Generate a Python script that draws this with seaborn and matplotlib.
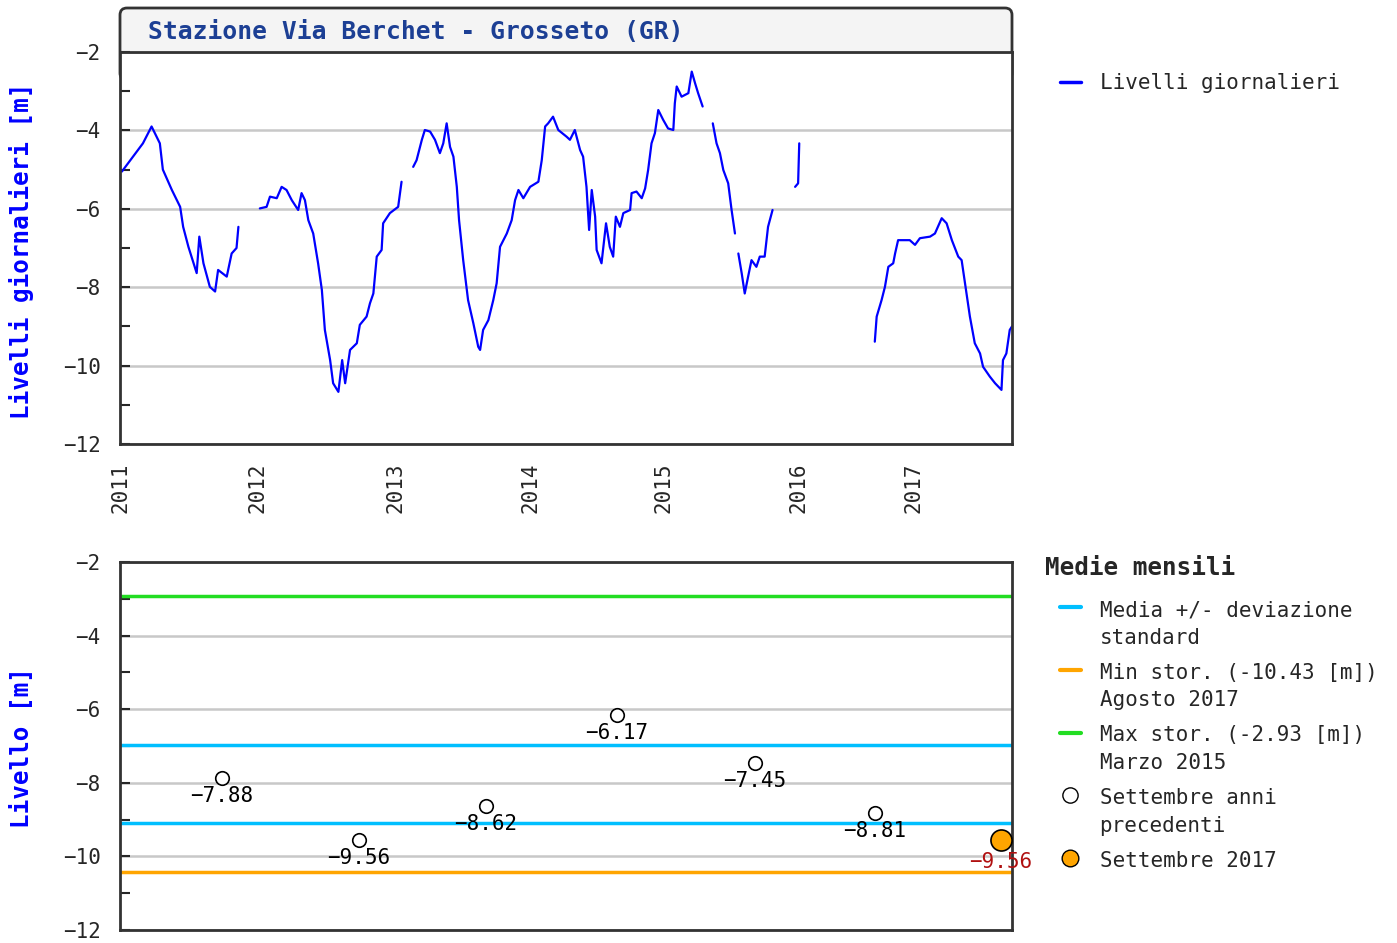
import numpy as np
import pandas as pd
import seaborn as sns
import matplotlib.pyplot as plt
from matplotlib.lines import Line2D
from matplotlib.patches import FancyBboxPatch
from matplotlib.transforms import IdentityTransform

sns.set_style('white')
plt.rcParams['font.family'] = ['DejaVu Sans Mono', 'DejaVu Sans']

# Livelli giornalieri: giorno progressivo del record, livello [m], per tratti continui
seg1_giorno = [5, 61, 84, 106, 114, 138, 160, 168, 182, 204, 211, 222, 239, 253, 261, 284, 297, 310, 315]
seg1_livello = [-5.05, -4.33, -3.9, -4.33, -5.0, -5.52, -5.95, -6.46, -6.97, -7.64, -6.71, -7.39, -7.99, -8.11,
                -7.56, -7.73, -7.14, -7.0, -6.46]
seg2_giorno = [372, 390, 399, 417, 430, 443, 457, 474, 483, 492, 501, 514, 527, 537, 545, 559, 567, 581, 591, 599,
               612, 630, 638, 656, 665, 674, 683, 696, 700, 718, 740, 749]
seg2_livello = [-5.99, -5.95, -5.69, -5.73, -5.44, -5.52, -5.78, -6.03, -5.6, -5.78, -6.29, -6.63, -7.39, -8.07,
                -9.09, -9.86, -10.45, -10.67, -9.86, -10.45, -9.6, -9.43, -8.96, -8.75, -8.41, -8.16, -7.22, -7.05,
                -6.37, -6.11, -5.95, -5.31]
seg3_giorno = [780, 789, 803, 811, 825, 838, 851, 860, 869, 878, 887, 896, 902, 913, 926, 940, 953, 958, 966, 980,
               993, 1002, 1011, 1029, 1042, 1051, 1060, 1073, 1091, 1113, 1122, 1131, 1139, 1152, 1166, 1188, 1197,
               1210, 1224, 1232, 1241, 1248, 1255, 1264, 1268, 1281, 1293, 1303, 1312, 1319, 1330, 1339, 1357, 1361,
               1374, 1388, 1397, 1405, 1414, 1423, 1432, 1445, 1458, 1472, 1476, 1481, 1494, 1512, 1521, 1530,
               1538, 1550]
seg3_livello = [-4.93, -4.76, -4.24, -3.99, -4.03, -4.24, -4.58, -4.33, -3.82, -4.42, -4.67, -5.44, -6.29, -7.31,
                -8.33, -8.92, -9.52, -9.6, -9.09, -8.84, -8.33, -7.9, -6.97, -6.63, -6.29, -5.78, -5.52, -5.73,
                -5.44, -5.31, -4.76, -3.9, -3.82, -3.65, -3.99, -4.16, -4.24, -3.99, -4.5, -4.67, -5.44, -6.54,
                -5.52, -6.2, -7.05, -7.39, -6.37, -6.97, -7.22, -6.2, -6.46, -6.11, -6.03, -5.6, -5.56, -5.73,
                -5.48, -5.01, -4.33, -4.07, -3.48, -3.73, -3.95, -3.99, -3.31, -2.88, -3.14, -3.05, -2.5, -2.8,
                -3.05, -3.39]
seg4_giorno = [1577, 1587, 1596, 1605, 1618, 1627, 1636]
seg4_livello = [-3.82, -4.33, -4.58, -5.01, -5.35, -6.03, -6.63]
seg5_giorno = [1645, 1654, 1662, 1671, 1680, 1693, 1702, 1715, 1724, 1736]
seg5_livello = [-7.14, -7.65, -8.16, -7.73, -7.31, -7.48, -7.22, -7.22, -6.46, -6.03]
seg6_giorno = [1796, 1804, 1807]
seg6_livello = [-5.44, -5.35, -4.33]
seg7_giorno = [2008, 2013, 2026, 2035, 2044, 2057, 2062, 2070, 2101, 2115, 2128, 2155, 2168, 2186, 2199, 2213,
               2230, 2239, 2248, 2261, 2274, 2288, 2296, 2314, 2328, 2345, 2349, 2358, 2367, 2373]
seg7_livello = [-9.39, -8.75, -8.33, -7.99, -7.48, -7.39, -7.14, -6.8, -6.8, -6.92, -6.75, -6.71, -6.63, -6.24,
                -6.37, -6.8, -7.22, -7.31, -7.9, -8.75, -9.43, -9.69, -10.03, -10.28, -10.45, -10.62, -9.86,
                -9.69, -9.09, -9.0]

anni = ['2011', '2012', '2013', '2014', '2015', '2016', '2017']
anni_giorno = [0, 367, 732, 1091, 1445, 1804, 2110]
giorno_fine = 2373

# Medie mensili di settembre
settembre_giorno = [271, 636, 974, 1322, 1689, 2008, 2343]
settembre_livello = [-7.88, -9.56, -8.62, -6.17, -7.45, -8.81, -9.56]
media = -8.03
dev_std = 1.06
min_stor = -10.43
max_stor = -2.93

segmenti = [(seg1_giorno, seg1_livello), (seg2_giorno, seg2_livello), (seg3_giorno, seg3_livello),
            (seg4_giorno, seg4_livello), (seg5_giorno, seg5_livello), (seg6_giorno, seg6_livello),
            (seg7_giorno, seg7_livello)]
df = pd.concat([pd.DataFrame({'giorno': g, 'livello': l, 'segmento': i})
                for i, (g, l) in enumerate(segmenti)], ignore_index=True)
mesi = pd.DataFrame({'giorno': settembre_giorno, 'livello': settembre_livello})

W, H = 1397, 943
fig = plt.figure(figsize=(W / 100, H / 100), dpi=100)
ax1 = fig.add_axes([120 / W, 1 - 444 / H, 892 / W, 392 / H])
ax2 = fig.add_axes([120 / W, 1 - 930 / H, 892 / W, 368 / H])

# title box
box = FancyBboxPatch((120, H - 80), 892, 72, boxstyle='round,pad=0,rounding_size=7',
                     transform=IdentityTransform(), facecolor='#f4f4f4', edgecolor='#333333',
                     linewidth=2, zorder=-1)
fig.patches.append(box)
fig.text(148 / W, 1 - 32 / H, 'Stazione Via Berchet - Grosseto (GR)', fontsize=17.7, fontweight='bold',
         color='#1c3f94', va='center', ha='left')

# top: daily levels
sns.lineplot(data=df, x='giorno', y='livello', units='segmento', estimator=None, color='#0000ff',
             linewidth=1.6, ax=ax1, legend=False)
ax1.set_xlim(0, giorno_fine)
ax1.set_xticks(anni_giorno)
ax1.set_xticklabels(anni, rotation=90)
ax1.tick_params(axis='x', length=0, pad=13, labelsize=15)

for ax in (ax1, ax2):
    ax.set_ylim(-12, -2)
    ax.set_yticks([-2, -4, -6, -8, -10, -12])
    ax.set_yticks(np.arange(-11, -2, 2), minor=True)
    ax.tick_params(axis='y', which='both', direction='in', length=7, width=1.5, labelsize=15, pad=14,
                   left=True)
    ax.grid(axis='y', which='major', color='#c8c8c8', linewidth=1.8)
    ax.set_axisbelow(True)
    ax.set_xlabel('')
    ax.set_ylabel('')
    for s in ax.spines.values():
        s.set_color('#333333')
        s.set_linewidth(2)

# bottom: monthly means
ax2.set_xlim(0, giorno_fine)
ax2.set_xticks([])
ax2.axhline(max_stor, color='#22dd22', linewidth=2.5, zorder=2)
ax2.axhline(min_stor, color='#ffa500', linewidth=2.5, zorder=2)
ax2.axhline(media + dev_std, color='#00bfff', linewidth=2.5, zorder=2)
ax2.axhline(media - dev_std, color='#00bfff', linewidth=2.5, zorder=2)
sns.scatterplot(data=mesi.iloc[:-1], x='giorno', y='livello', s=95, color='white', edgecolor='black',
                linewidth=1.2, ax=ax2, zorder=4, legend=False)
sns.scatterplot(data=mesi.iloc[-1:], x='giorno', y='livello', s=230, color='#ffa500', edgecolor='black',
                linewidth=1.2, ax=ax2, zorder=4, legend=False)
ax2.set_xlabel('')
ax2.set_ylabel('')
for i, (g, l) in enumerate(zip(settembre_giorno, settembre_livello)):
    last = i == len(settembre_giorno) - 1
    ax2.annotate(f'{l:.2f}'.replace('-', '\u2212'), (g, l), xytext=(0, -22 if last else -18),
                 textcoords='offset pixels', ha='center', va='center', fontsize=15,
                 color='#b01010' if last else 'black', zorder=5)

# y labels
fig.text(22 / W, 1 - 251 / H, 'Livelli giornalieri [m]', rotation=90, fontsize=17.5, fontweight='bold',
         color='#0000ff', va='center', ha='center')
fig.text(22 / W, 1 - 748 / H, 'Livello [m]', rotation=90, fontsize=17.5, fontweight='bold',
         color='#0000ff', va='center', ha='center')

# legends
fig.legend(handles=[Line2D([], [], color='#0000ff', linewidth=2.5)], labels=['Livelli giornalieri'],
           loc='upper left', bbox_to_anchor=(1060 / W, 1 - 73 / H), frameon=False, fontsize=15,
           handlelength=1.0, handletextpad=0.9, borderpad=0, borderaxespad=0)

fig.text(1045 / W, 1 - 568 / H, 'Medie mensili', fontsize=17.5, fontweight='bold', va='center', ha='left')
handles = [Line2D([], [], color='#00bfff', linewidth=3),
           Line2D([], [], color='#ffa500', linewidth=3),
           Line2D([], [], color='#22dd22', linewidth=3),
           Line2D([], [], linestyle='', marker='o', markersize=11, markerfacecolor='white',
                  markeredgecolor='black'),
           Line2D([], [], linestyle='', marker='o', markersize=12, markerfacecolor='#ffa500',
                  markeredgecolor='black')]
labels = ['Media +/- deviazione\nstandard',
          'Min stor. (-10.43 [m])\nAgosto 2017',
          'Max stor. (-2.93 [m])\nMarzo 2015',
          'Settembre anni\nprecedenti',
          'Settembre 2017']
leg = fig.legend(handles=handles, labels=labels, loc='upper left', bbox_to_anchor=(1060 / W, 1 - 600 / H),
                 frameon=False, fontsize=15, handlelength=1.0, handletextpad=0.9, borderpad=0,
                 borderaxespad=0, labelspacing=0.72)
for t in leg.get_texts():
    t.set_linespacing(1.48)
# put each handle level with the first line of its label
for col in leg._legend_handle_box.get_children():
    for row in col.get_children():
        row.align = 'top'

plt.savefig('out.png', dpi=100)
